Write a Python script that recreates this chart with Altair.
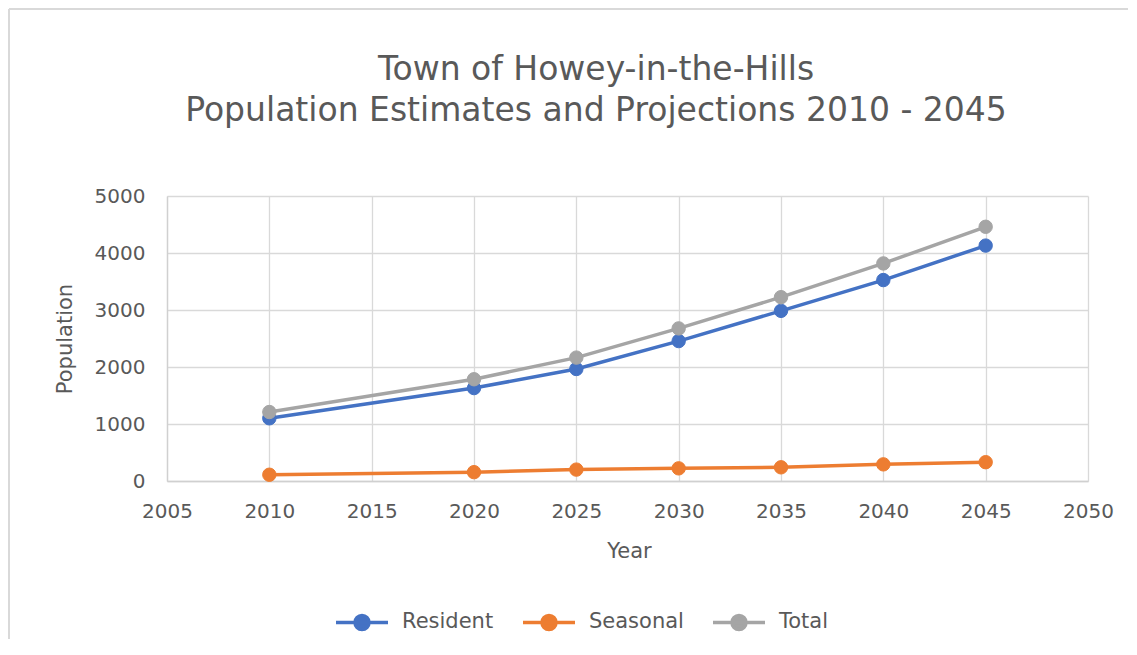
import altair as alt
import pandas as pd

years = [2010, 2020, 2025, 2030, 2035, 2040, 2045]
resident = [1100, 1630, 1965, 2455, 2985, 3525, 4130]
seasonal = [110, 155, 200, 222, 240, 292, 330]
total = [1210, 1785, 2165, 2677, 3225, 3817, 4460]
series_names = ["Resident", "Seasonal", "Total"]
series_colors = ["#4472C4", "#ED7D31", "#A5A5A5"]
x_ticks = [2005, 2010, 2015, 2020, 2025, 2030, 2035, 2040, 2045, 2050]
y_ticks = [0, 1000, 2000, 3000, 4000, 5000]
title_lines = ["Town of Howey-in-the-Hills", "Population Estimates and Projections 2010 - 2045"]

rows = []
for name, vals in zip(series_names, [resident, seasonal, total]):
    for yr, v in zip(years, vals):
        rows.append({"Year": yr, "Series": name, "Population": v})
df = pd.DataFrame(rows)

TEXT = "#595959"
FONT = "DejaVu Sans"
SYMBOL = "M-1,0L1,0M0.27,0A0.27,0.27 0 1 1 -0.27,0A0.27,0.27 0 1 1 0.27,0Z"

legend = alt.Legend(
    title=None, orient="none", legendX=167, legendY=398, direction="horizontal",
    symbolType=SYMBOL, symbolSize=2704, symbolStrokeWidth=3.5,
    labelFontSize=21, labelColor=TEXT, labelFont=FONT, labelOffset=12,
    columnPadding=22, padding=0,
)
stroke_scale = alt.Scale(domain=series_names, range=series_colors)
fill_scale = alt.Scale(domain=series_names, range=series_colors)

x = alt.X("Year:Q", scale=alt.Scale(domain=[2005, 2050], nice=False, zero=False),
          axis=alt.Axis(values=x_ticks, format="d", title="Year", labelPadding=20,
                        labelFlush=False, labelOverlap=False,
                        titleX=462, titleY=70, titleBaseline="middle", titleAlign="center"))
y = alt.Y("Population:Q", scale=alt.Scale(domain=[0, 5000], nice=False),
          axis=alt.Axis(values=y_ticks, format="d", title="Population", labelPadding=22,
                        titleX=-102, titleY=142.5, titleAngle=-90,
                        titleBaseline="middle", titleAlign="center"))

base = alt.Chart(df)
lines = base.mark_line(strokeWidth=3.5).encode(
    x=x, y=y, stroke=alt.Stroke("Series:N", scale=stroke_scale, legend=legend))
points = base.mark_point(filled=True, size=180, opacity=1, strokeWidth=1).encode(
    x=x, y=y,
    fill=alt.Fill("Series:N", scale=fill_scale, legend=legend),
    stroke=alt.Stroke("Series:N", scale=stroke_scale, legend=legend))

frame_df = pd.DataFrame({"k": [0]})
frame_top = alt.Chart(frame_df).mark_rule(color="#D9D9D9", strokeWidth=2).encode(
    x=alt.value(-158), x2=alt.value(975), y=alt.value(-187))
frame_left = alt.Chart(frame_df).mark_rule(color="#D9D9D9", strokeWidth=2).encode(
    x=alt.value(-158), y=alt.value(-187), y2=alt.value(470))

chart = alt.layer(frame_top, frame_left, lines, points).properties(
    width=921, height=285,
    autosize=alt.AutoSizeParams(type="none"),
    padding={"left": 159, "top": 188, "right": 40, "bottom": 158},
    title=alt.TitleParams(text=title_lines, fontSize=33, font=FONT, fontWeight="normal",
                          color=TEXT, lineHeight=41, anchor="middle", frame="group",
                          dx=-31.5, offset=68, dy=188),
).configure(font=FONT).configure_axis(
    labelFont=FONT, labelFontSize=20, labelColor=TEXT,
    titleFont=FONT, titleFontSize=21, titleColor=TEXT, titleFontWeight="normal",
    ticks=False, gridColor="#D9D9D9", gridWidth=1.3, domainColor="#D0D0D0", domainWidth=1.3,
).configure_view(stroke=None)

chart.save("out.html", embed_options={"renderer": "svg", "actions": False})
